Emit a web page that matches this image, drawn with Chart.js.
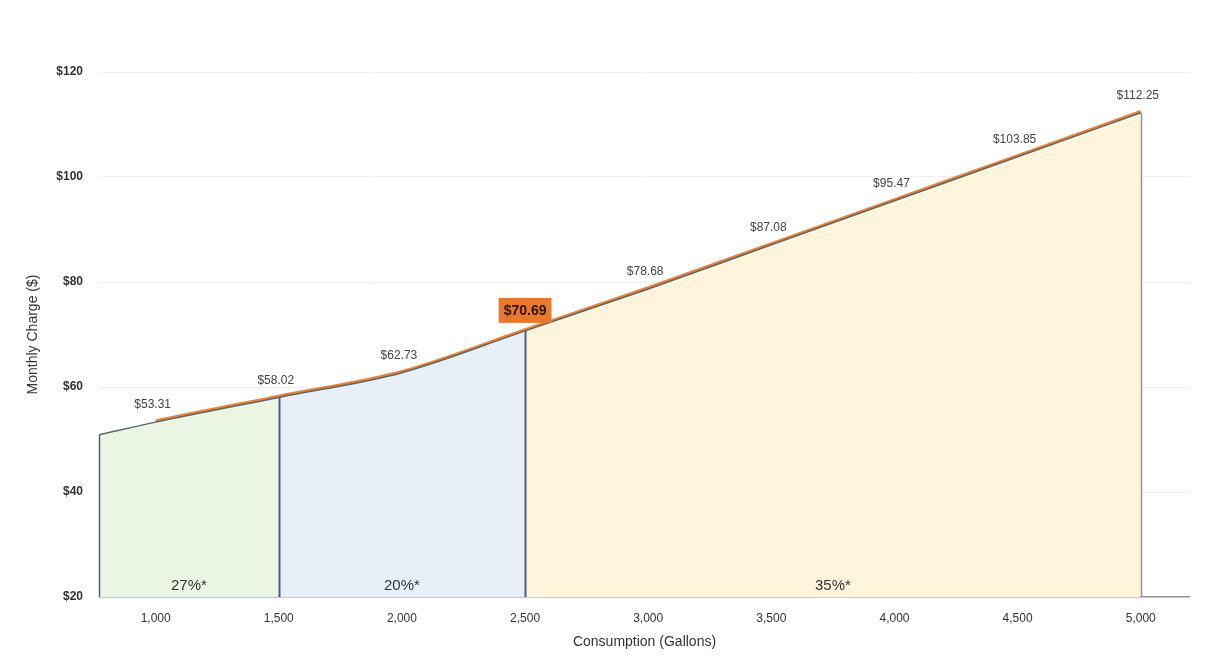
<!DOCTYPE html>
<html>
<head>
<meta charset="utf-8">
<script src="https://cdn.jsdelivr.net/npm/chart.js@4/dist/chart.umd.min.js"></script>
<style>
  html, body { margin: 0; padding: 0; background: #fff; }
  #wrap { width: 1212px; height: 670px; }
</style>
</head>
<body>
<div id="wrap"><canvas id="rateChart" width="1212" height="670"></canvas></div>
<script>
// gallons and monthly charge
const gallons = [770, 1000, 1500, 2000, 2500, 3000, 3500, 4000, 4500, 5000];
const charges = [50.9, 53.31, 58.02, 62.73, 70.69, 78.68, 87.08, 95.47, 103.85, 112.25];
const labelled = [false, true, true, true, true, true, true, true, true, true];
const highlightGallons = 2500;

// tiers: start, end, share text
const tierStarts = [770, 1500, 2500];
const tierEnds = [1500, 2500, 5000];
const tierShares = ["27%*", "20%*", "35%*"];
const tierFills = ["#eaf5e3", "#e7eff9", "#fff4dc"];
const tierEdges = ["#55616a", "#4a5a8c", "#4f6270", "#8a95a0"]; // at 770, 1500, 2500, 5000

const yTicks = [20, 40, 60, 80, 100, 120];
const xTicks = [1000, 1500, 2000, 2500, 3000, 3500, 4000, 4500, 5000];

const FONT = "Arial, 'Liberation Sans', sans-serif";

function tierOf(g) {
  for (let t = 0; t < tierStarts.length; t++) {
    if (g >= tierStarts[t] && g < tierEnds[t]) return t;
  }
  return tierStarts.length - 1;
}

const points = gallons.map((g, i) => ({ x: g, y: charges[i] }));

const areaSet = {
  data: points,
  borderColor: "#5b6766",
  borderWidth: 1.5,
  backgroundColor: tierFills[0],
  fill: "start",
  pointRadius: 0,
  cubicInterpolationMode: "monotone",
  segment: {
    backgroundColor: c => tierFills[tierOf(c.p0.parsed.x)]
  }
};

const lineSet = {
  data: points,
  borderColor: "#e8843a",
  borderWidth: 3,
  fill: false,
  pointRadius: 0,
  cubicInterpolationMode: "monotone",
  segment: {
    borderColor: c => (c.p0.parsed.x < 1000 ? "rgba(0,0,0,0)" : "#e8843a")
  }
};

const edgePlugin = {
  id: "edges",
  beforeDatasetDraw(chart, args) {
    if (args.index === 1) {
      chart.ctx.save();
      chart.ctx.translate(0, -1.2);
    }
  },
  afterDatasetDraw(chart, args) {
    const ctx = chart.ctx;
    const xs = chart.scales.x, ys = chart.scales.y;
    if (args.index === 1) {
      ctx.restore();
      return;
    }
    // vertical tier edges, from the series values
    const bounds = [tierStarts[0], ...tierEnds];
    ctx.save();
    bounds.forEach((g, k) => {
      const px = Math.round(xs.getPixelForValue(g)) + 0.5;
      ctx.strokeStyle = tierEdges[k];
      ctx.lineWidth = k === 0 || k === bounds.length - 1 ? 1.5 : 2;
      ctx.beginPath();
      ctx.moveTo(px, ys.getPixelForValue(20));
      ctx.lineTo(px, ys.getPixelForValue(charges[gallons.indexOf(g)]));
      ctx.stroke();
    });
    ctx.restore();
  }
};

const labelPlugin = {
  id: "labels",
  afterDatasetsDraw(chart) {
    const ctx = chart.ctx;
    const xs = chart.scales.x, ys = chart.scales.y;
    ctx.save();
    ctx.textAlign = "center";
    ctx.textBaseline = "middle";
    gallons.forEach((g, i) => {
      if (!labelled[i]) return;
      const px = xs.getPixelForValue(g);
      const py = ys.getPixelForValue(charges[i]);
      const txt = "$" + charges[i].toFixed(2);
      if (g === highlightGallons) {
        ctx.font = "bold 14px " + FONT;
        const w = ctx.measureText(txt).width + 10;
        ctx.fillStyle = "#e8782e";
        ctx.fillRect(px - w / 2, py - 33, w, 25);
        ctx.fillStyle = "#2a1405";
        ctx.fillText(txt, px, py - 20);
      } else {
        ctx.font = "12px " + FONT;
        ctx.fillStyle = "#444";
        ctx.fillText(txt, px - 3, py - 17);
      }
    });
    ctx.font = "15px " + FONT;
    ctx.fillStyle = "#333";
    tierStarts.forEach((s, t) => {
      const px = xs.getPixelForValue((s + tierEnds[t]) / 2);
      ctx.fillText(tierShares[t], px, ys.getPixelForValue(20) - 11);
    });
    ctx.restore();
  }
};

new Chart(document.getElementById("rateChart"), {
  type: "line",
  data: { datasets: [areaSet, lineSet] },
  plugins: [edgePlugin, labelPlugin],
  options: {
    responsive: false,
    animation: false,
    layout: { padding: { left: 10, top: 72, right: 22, bottom: 13 } },
    plugins: { legend: { display: false }, tooltip: { enabled: false } },
    scales: {
      x: {
        type: "linear",
        min: 770,
        max: 5200,
        afterBuildTicks: s => { s.ticks = xTicks.map(v => ({ value: v })); },
        afterFit: s => { s.height = 60; },
        grid: { display: false, drawTicks: false },
        border: { display: false },
        ticks: {
          padding: 14,
          color: "#333",
          font: { family: FONT, size: 12 },
          callback: v => v.toLocaleString("en-US")
        },
        title: {
          display: true,
          text: "Consumption (Gallons)",
          color: "#333",
          font: { family: FONT, size: 14 },
          padding: { top: 0, bottom: 6 }
        }
      },
      y: {
        min: 20,
        max: 120,
        afterBuildTicks: s => { s.ticks = yTicks.map(v => ({ value: v })); },
        afterFit: s => { s.width = 89; },
        grid: {
          drawTicks: false,
          color: c => (c.tick && c.tick.value === 20 ? "#8c939b" : "#f0f0f0"),
          lineWidth: c => (c.tick && c.tick.value === 20 ? 1.5 : 1)
        },
        border: { display: false },
        ticks: {
          padding: 16,
          color: "#333",
          font: { family: FONT, size: 12, weight: "bold" },
          callback: v => "$" + v
        },
        title: {
          display: true,
          text: "Monthly Charge ($)",
          color: "#333",
          font: { family: FONT, size: 14 },
          padding: { top: 15, bottom: 0 }
        }
      }
    }
  }
});
</script>
</body>
</html>
